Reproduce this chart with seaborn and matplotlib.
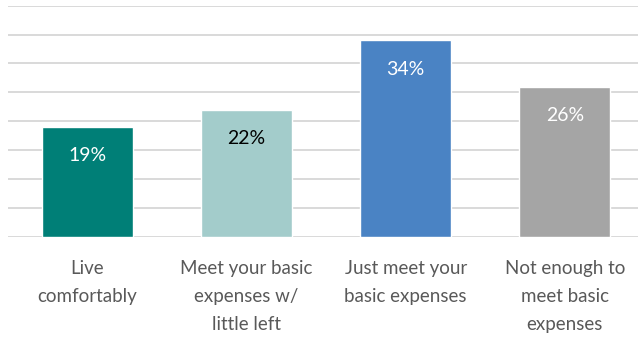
import matplotlib
matplotlib.use("Agg")
import matplotlib.pyplot as plt
import seaborn as sns
import pandas as pd
from matplotlib.transforms import offset_copy

categories = ["Live\ncomfortably",
              "Meet your basic\nexpenses w/\nlittle left",
              "Just meet your\nbasic expenses",
              "Not enough to\nmeet basic\nexpenses"]
values = [19, 22, 34, 26]
bar_colors = ["#007F77", "#A3CCCB", "#4A83C4", "#A5A5A5"]
label_colors = ["white", "black", "white", "white"]

sns.set_theme(style="white")
plt.rcParams["font.family"] = ["Lato", "DejaVu Sans"]

df = pd.DataFrame({"category": categories, "value": values})

fig = plt.figure(figsize=(6.38, 3.41), dpi=100)
ax = fig.add_axes([8 / 638, 1 - 236.7 / 341, 630 / 638, (236.7 - 5.7) / 341])

ax.set_ylim(0, 40)
ax.set_yticks(range(0, 41, 5))
ax.yaxis.grid(True, color="#D9D9D9", linewidth=1.4)
ax.set_axisbelow(True)

sns.barplot(data=df, x="category", y="value", hue="category",
            palette=bar_colors, width=0.57, legend=False, ax=ax,
            saturation=1)
ax.set_xlim(-0.5, 3.46)

for i, (v, c) in enumerate(zip(values, label_colors)):
    t = offset_copy(ax.transData, fig=fig, x=0, y=-29, units="dots")
    ax.text(i, v, f"{v}%", transform=t, ha="center", va="center",
            color=c, fontsize=14)

ax.set_xlabel("")
ax.set_ylabel("")
ax.set_yticklabels([])
ax.tick_params(axis="both", length=0)
ax.set_xticklabels(categories, color="#595959", fontsize=13.5,
                   linespacing=1.78)
ax.tick_params(axis="x", pad=17)
for s in ax.spines.values():
    s.set_visible(False)

fig.savefig("out.png", dpi=100)
